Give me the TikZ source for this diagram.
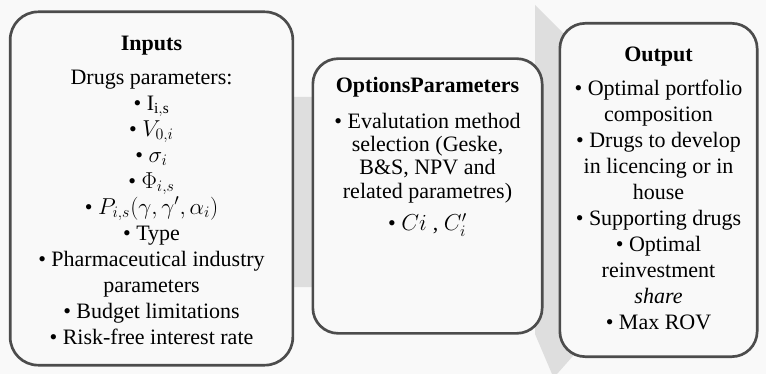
\documentclass[tikz,border=0pt]{standalone}
\usepackage{fontspec}
\setmainfont{Liberation Serif}
\usetikzlibrary{positioning}

\tikzset{
  panel/.style={draw=black!70, line width=2pt, rounded corners=21pt, fill=gray!5},
  paneltext/.style={align=center, inner sep=0pt, font=\fontsize{16.5}{19.5}\selectfont},
  flow/.style={fill=gray!26, draw=none},
}

\begin{document}
\begin{tikzpicture}[x=0.75pt,y=-0.75pt]

% Page
\fill[gray!5] (0,0) rectangle (766,374);
\useasboundingbox (0,0) rectangle (766,374);

% Big arrow behind the boxes
\def\shafttop{97}
\def\shaftbot{287}
\def\headx{535}
\fill[flow] (150,\shafttop) -- (\headx,\shafttop) -- (\headx,5) -- (720,190)
  -- (557,374) -- (552,374) -- (\headx,334) -- (\headx,\shaftbot)
  -- (150,\shaftbot) -- cycle;

% Boxes
\node[panel, minimum width=212pt, minimum height=265pt] (inBox) at (151.5,188.5) {};
\node[panel, minimum width=172pt, minimum height=206pt, rounded corners=19pt] (optBox) at (427.5,196) {};
\node[panel, minimum width=148pt, minimum height=250pt, rounded corners=19pt] (outBox) at (658.5,190) {};

% Inputs
\node[paneltext] (inText) at (151.5,190) {%
  \textbf{Inputs}\\[6pt]
  Drugs parameters:\\
  \textbullet\ I$_{\mathrm{i,s}}$\\
  \textbullet\ $V_{0,i}$\\
  \textbullet\ $\sigma_i$\\
  \textbullet\ $\Phi_{i,s}$\\
  \textbullet\ $P_{i,s}(\gamma,\gamma',\alpha_i)$\\
  \textbullet\ Type\\
  \textbullet\ Pharmaceutical industry\\
  parameters\\
  \textbullet\ Budget limitations\\
  \textbullet\ Risk-free interest rate};

% Options parameters
\node[paneltext, anchor=north, font=\fontsize{16.5}{17.5}\selectfont] (optText)
  at ([yshift=-15pt]optBox.north) {%
  \textbf{OptionsParameters}\\[9pt]
  \textbullet\ Evalutation method\\
  selection (Geske,\\
  B\&S, NPV and\\
  related parametres)\\[7pt]
  \textbullet\ $Ci$\;, $C'_i$};

% Output
\node[paneltext] (outText) at (658.5,188) {%
  \textbf{Output}\\[6pt]
  \textbullet\ Optimal portfolio\\
  composition\\
  \textbullet\ Drugs to develop\\
  in licencing or in\\
  house\\
  \textbullet\ Supporting drugs\\
  \textbullet\ Optimal\\
  reinvestment\\
  \textit{share}\\
  \textbullet\ Max ROV};

\end{tikzpicture}
\end{document}
